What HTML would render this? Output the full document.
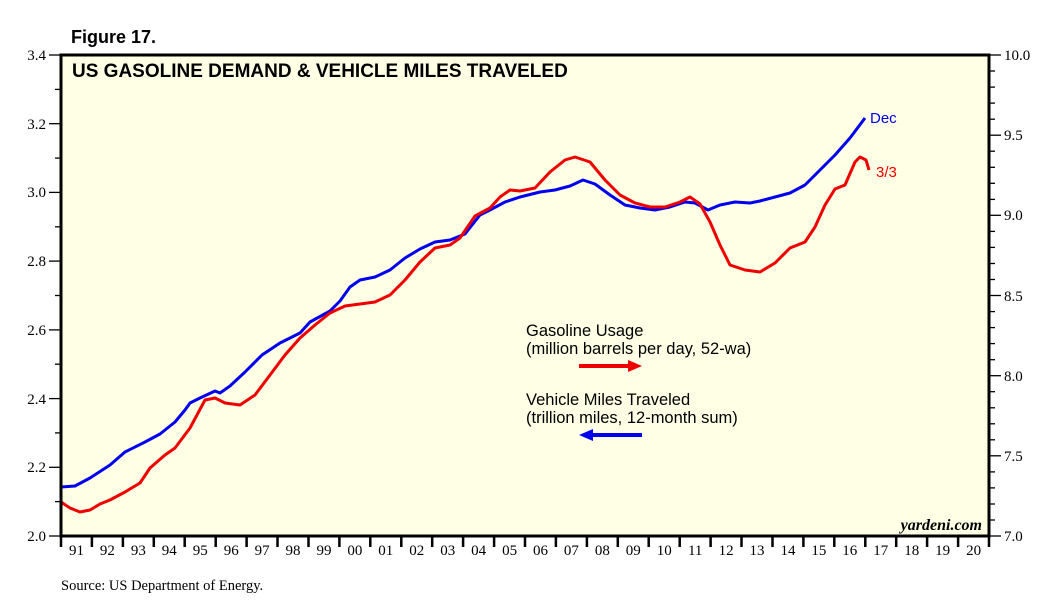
<!DOCTYPE html>
<html><head><meta charset="utf-8"><style>body{margin:0;background:#fff}svg{display:block}</style></head><body>
<svg width="1056" height="615" xmlns="http://www.w3.org/2000/svg" font-family="Liberation Serif, serif">
<rect width="1056" height="615" fill="#fff"/>
<text x="71" y="43" font-family="Liberation Sans, sans-serif" font-weight="bold" font-size="18">Figure 17.</text>
<rect x="61" y="55" width="928" height="481" fill="#ffffe6"/>
<g stroke="#000" stroke-width="1.3">
<line x1="49" y1="55" x2="61" y2="55"/><line x1="55" y1="89.4" x2="61" y2="89.4"/>
<line x1="49" y1="123.7" x2="61" y2="123.7"/><line x1="55" y1="158.1" x2="61" y2="158.1"/>
<line x1="49" y1="192.4" x2="61" y2="192.4"/><line x1="55" y1="226.8" x2="61" y2="226.8"/>
<line x1="49" y1="261.1" x2="61" y2="261.1"/><line x1="55" y1="295.5" x2="61" y2="295.5"/>
<line x1="49" y1="329.9" x2="61" y2="329.9"/><line x1="55" y1="364.2" x2="61" y2="364.2"/>
<line x1="49" y1="398.6" x2="61" y2="398.6"/><line x1="55" y1="432.9" x2="61" y2="432.9"/>
<line x1="49" y1="467.3" x2="61" y2="467.3"/><line x1="55" y1="501.6" x2="61" y2="501.6"/>
<line x1="49" y1="536" x2="61" y2="536"/>
</g>
<g font-size="15" text-anchor="end">
<text x="46" y="60">3.4</text><text x="46" y="129">3.2</text><text x="46" y="197">3.0</text><text x="46" y="266">2.8</text><text x="46" y="335">2.6</text><text x="46" y="404">2.4</text><text x="46" y="472">2.2</text><text x="46" y="541">2.0</text>
</g>
<g font-size="15">
<text x="1004" y="60">10.0</text><text x="1004" y="140">9.5</text><text x="1004" y="220">9.0</text><text x="1004" y="301">8.5</text><text x="1004" y="381">8.0</text><text x="1004" y="461">7.5</text><text x="1004" y="541">7.0</text>
</g>
<g stroke="#000" stroke-width="1.3">
<line x1="989" y1="55" x2="1001" y2="55"/><line x1="989" y1="71" x2="995" y2="71"/><line x1="989" y1="87.1" x2="995" y2="87.1"/><line x1="989" y1="103.1" x2="995" y2="103.1"/><line x1="989" y1="119.2" x2="995" y2="119.2"/>
<line x1="989" y1="135.2" x2="1001" y2="135.2"/><line x1="989" y1="151.2" x2="995" y2="151.2"/><line x1="989" y1="167.3" x2="995" y2="167.3"/><line x1="989" y1="183.3" x2="995" y2="183.3"/><line x1="989" y1="199.4" x2="995" y2="199.4"/>
<line x1="989" y1="215.3" x2="1001" y2="215.3"/><line x1="989" y1="231.4" x2="995" y2="231.4"/><line x1="989" y1="247.4" x2="995" y2="247.4"/><line x1="989" y1="263.5" x2="995" y2="263.5"/><line x1="989" y1="279.5" x2="995" y2="279.5"/>
<line x1="989" y1="295.5" x2="1001" y2="295.5"/><line x1="989" y1="311.6" x2="995" y2="311.6"/><line x1="989" y1="327.6" x2="995" y2="327.6"/><line x1="989" y1="343.6" x2="995" y2="343.6"/><line x1="989" y1="359.7" x2="995" y2="359.7"/>
<line x1="989" y1="375.7" x2="1001" y2="375.7"/><line x1="989" y1="391.7" x2="995" y2="391.7"/><line x1="989" y1="407.8" x2="995" y2="407.8"/><line x1="989" y1="423.8" x2="995" y2="423.8"/><line x1="989" y1="439.8" x2="995" y2="439.8"/>
<line x1="989" y1="455.8" x2="1001" y2="455.8"/><line x1="989" y1="471.9" x2="995" y2="471.9"/><line x1="989" y1="487.9" x2="995" y2="487.9"/><line x1="989" y1="504" x2="995" y2="504"/><line x1="989" y1="520" x2="995" y2="520"/>
<line x1="989" y1="536" x2="1001" y2="536"/>
</g>
<g stroke="#000" stroke-width="2.5">
<line x1="61.0" y1="536" x2="61.0" y2="547"/><line x1="91.9" y1="536" x2="91.9" y2="547"/><line x1="122.9" y1="536" x2="122.9" y2="547"/><line x1="153.8" y1="536" x2="153.8" y2="547"/><line x1="184.7" y1="536" x2="184.7" y2="547"/><line x1="215.7" y1="536" x2="215.7" y2="547"/><line x1="246.6" y1="536" x2="246.6" y2="547"/><line x1="277.5" y1="536" x2="277.5" y2="547"/><line x1="308.5" y1="536" x2="308.5" y2="547"/><line x1="339.4" y1="536" x2="339.4" y2="547"/><line x1="370.3" y1="536" x2="370.3" y2="547"/><line x1="401.3" y1="536" x2="401.3" y2="547"/><line x1="432.2" y1="536" x2="432.2" y2="547"/><line x1="463.1" y1="536" x2="463.1" y2="547"/><line x1="494.1" y1="536" x2="494.1" y2="547"/><line x1="525.0" y1="536" x2="525.0" y2="547"/><line x1="555.9" y1="536" x2="555.9" y2="547"/><line x1="586.9" y1="536" x2="586.9" y2="547"/><line x1="617.8" y1="536" x2="617.8" y2="547"/><line x1="648.7" y1="536" x2="648.7" y2="547"/><line x1="679.7" y1="536" x2="679.7" y2="547"/><line x1="710.6" y1="536" x2="710.6" y2="547"/><line x1="741.5" y1="536" x2="741.5" y2="547"/><line x1="772.5" y1="536" x2="772.5" y2="547"/><line x1="803.4" y1="536" x2="803.4" y2="547"/><line x1="834.3" y1="536" x2="834.3" y2="547"/><line x1="865.3" y1="536" x2="865.3" y2="547"/><line x1="896.2" y1="536" x2="896.2" y2="547"/><line x1="927.1" y1="536" x2="927.1" y2="547"/><line x1="958.1" y1="536" x2="958.1" y2="547"/><line x1="989.0" y1="536" x2="989.0" y2="547"/>
</g>
<g font-size="15" text-anchor="middle">
<text x="76.5" y="555">91</text><text x="107.4" y="555">92</text><text x="138.4" y="555">93</text><text x="169.3" y="555">94</text><text x="200.2" y="555">95</text><text x="231.2" y="555">96</text><text x="262.1" y="555">97</text><text x="293" y="555">98</text><text x="324" y="555">99</text><text x="354.9" y="555">00</text><text x="385.8" y="555">01</text><text x="416.8" y="555">02</text><text x="447.7" y="555">03</text><text x="478.6" y="555">04</text><text x="509.6" y="555">05</text><text x="540.5" y="555">06</text><text x="571.4" y="555">07</text><text x="602.4" y="555">08</text><text x="633.3" y="555">09</text><text x="664.2" y="555">10</text><text x="695.2" y="555">11</text><text x="726.1" y="555">12</text><text x="757" y="555">13</text><text x="788" y="555">14</text><text x="818.9" y="555">15</text><text x="849.8" y="555">16</text><text x="880.8" y="555">17</text><text x="911.7" y="555">18</text><text x="942.6" y="555">19</text><text x="973.6" y="555">20</text>
</g>
<text x="61" y="590" font-size="14.5">Source: US Department of Energy.</text>
<text x="72" y="77" font-family="Liberation Sans, sans-serif" font-weight="bold" font-size="19">US GASOLINE DEMAND &amp; VEHICLE MILES TRAVELED</text>
<text x="982" y="530" font-size="16" font-style="italic" font-weight="bold" text-anchor="end">yardeni.com</text>
<polyline fill="none" stroke="#0000ee" stroke-width="3" stroke-linejoin="round" points="61,487 75,486 90,478 110,465 125,452 145,442 160,434 175,422 185,410 190,403 200,398 215,391 220,393 230,386 245,372 262,355 280,343 300,333 310,322 330,311 340,301 350,287 360,280 375,277 390,270 405,258 420,249 435,242 450,240 465,234 480,215 490,210 505,202 520,197 540,192 555,190 570,186 583,180 595,184 610,195 625,205 640,208 655,210 670,207 685,202 695,203 708,210 720,205 735,202 750,203 760,201 775,197 790,193 805,185 820,170 835,155 850,138 865,118"/>
<polyline fill="none" stroke="#ee0000" stroke-width="3" stroke-linejoin="round" points="61,502 70,508 80,512 90,510 100,504 110,500 125,492 140,483 150,468 165,455 175,448 190,428 205,400 215,398 225,403 240,405 255,395 270,375 285,355 300,338 315,325 330,313 345,306 360,304 375,302 390,295 405,280 420,262 435,248 450,245 460,238 475,216 490,208 500,197 510,190 520,191 535,188 550,172 565,160 575,157 590,162 605,180 620,195 635,203 650,207 665,207 680,202 690,197 700,204 710,222 720,245 730,265 745,270 760,272 775,263 790,248 805,242 815,227 825,205 835,189 845,185 855,162 860,157 866,160 869,170"/>
<text x="870" y="123" fill="#0000ee" font-family="Liberation Sans, sans-serif" font-size="15">Dec</text>
<text x="876" y="177" fill="#ee0000" font-family="Liberation Sans, sans-serif" font-size="15">3/3</text>
<g font-family="Liberation Sans, sans-serif" font-size="16.5">
<text x="526" y="336">Gasoline Usage</text><text x="526" y="354">(million barrels per day, 52-wa)</text>
<text x="526" y="405">Vehicle Miles Traveled</text><text x="526" y="423">(trillion miles, 12-month sum)</text>
</g>
<line x1="579" y1="366" x2="630" y2="366" stroke="#ee0000" stroke-width="4"/><polygon points="628,360 642,366 628,372" fill="#ee0000"/>
<line x1="591" y1="435" x2="642" y2="435" stroke="#0000ee" stroke-width="4"/><polygon points="593,429 579,435 593,441" fill="#0000ee"/>
<rect x="61" y="55" width="928" height="481" fill="none" stroke="#000" stroke-width="3"/>
</svg>
</body></html>
